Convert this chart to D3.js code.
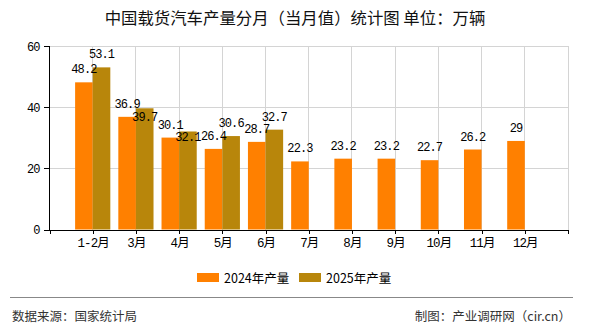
<!DOCTYPE html>
<html><head><meta charset="utf-8">
<script src="https://cdn.jsdelivr.net/npm/d3@7"></script>
<style>
html,body{margin:0;padding:0;background:#fff;}
svg{display:block;}
</style>
</head><body>
<svg id="c" width="590" height="330"></svg>
<script>
const categories = ["1-2月","3月","4月","5月","6月","7月","8月","9月","10月","11月","12月"];
const values2024 = [48.2, 36.9, 30.1, 26.4, 28.7, 22.3, 23.2, 23.2, 22.7, 26.2, 29];
const values2025 = [53.1, 39.7, 32.1, 30.6, 32.7];
const seriesNames = ["2024年产量", "2025年产量"];
const yTicks = [0, 20, 40, 60];
const titleText = "中国载货汽车产量分月（当月值）统计图 单位：万辆";
const sourceText = "数据来源：国家统计局";
const creditText = "制图：产业调研网（cir.cn）";

const colors = ["#FF8000", "#B8860B"];
const numFont = "'Liberation Mono','Noto Sans CJK SC',monospace";
const cjkFont = "'Noto Sans CJK SC','Noto Sans',sans-serif";

const svg = d3.select("#c");
const pLeft = 49.5, pRight = 568, pTop = 46.3, pBottom = 229.5;

const x = d3.scalePoint().domain(categories).range([pLeft, pRight]).padding(1);
const y = d3.scaleLinear().domain([0, 60]).range([pBottom, pTop]);
const bw = 17.6;
const inner = d3.scaleBand().domain(seriesNames).range([-bw, bw]);

// title
svg.append("text").attr("x", 295).attr("y", 24).attr("text-anchor", "middle")
  .attr("font-family", cjkFont).attr("font-size", 16.4).attr("fill", "#111")
  .text(titleText);

// grid
const g = svg.append("g");
g.selectAll("line.h").data(yTicks.filter(d => d > 0)).join("line")
  .attr("x1", pLeft).attr("x2", pRight).attr("y1", d => y(d)).attr("y2", d => y(d))
  .attr("stroke", "#d4d4d4").attr("stroke-width", 1).attr("shape-rendering", "crispEdges");
g.selectAll("line.v").data(categories.map(c => x(c)).concat([pRight])).join("line")
  .attr("x1", d => d).attr("x2", d => d).attr("y1", pTop).attr("y2", pBottom)
  .attr("stroke", "#d4d4d4").attr("stroke-width", 1).attr("shape-rendering", "crispEdges");

// bars
const series = [values2024, values2025];
series.forEach((vals, si) => {
  svg.append("g").selectAll("rect").data(vals).join("rect")
    .attr("x", (d, i) => x(categories[i]) + inner(seriesNames[si]))
    .attr("width", inner.bandwidth())
    .attr("y", d => y(d))
    .attr("height", d => y(0) - y(d))
    .attr("fill", colors[si]);
});

// axes
const xAxis = svg.append("g").attr("transform", `translate(0,${pBottom})`)
  .call(d3.axisBottom(x).tickSize(4).tickSizeOuter(4).tickPadding(5));
xAxis.selectAll("text").attr("font-family", numFont).attr("font-size", 12.5)
  .attr("letter-spacing", -0.9).attr("fill", "#000");
xAxis.selectAll("line,path").attr("stroke", "#000").attr("shape-rendering", "crispEdges");

const yAxis = svg.append("g").attr("transform", `translate(${pLeft},0)`)
  .call(d3.axisLeft(y).tickValues(yTicks).tickSize(6).tickSizeOuter(0).tickPadding(4));
yAxis.selectAll("text").attr("font-family", numFont).attr("font-size", 12)
  .attr("letter-spacing", -0.9).attr("fill", "#000");
yAxis.selectAll("line,path").attr("stroke", "#000").attr("shape-rendering", "crispEdges");
yAxis.select("path.domain").attr("d", `M0,${pTop}V${pBottom}`);

// data labels with simple overlap avoidance
const off = 9;
const labels = [];
values2024.forEach((v, i) => labels.push({v, cx: x(categories[i]) + inner(seriesNames[0]) + inner.bandwidth() / 2, by: y(v) - off}));
values2025.forEach((v, i) => {
  let by = y(v) - off;
  const other = y(values2024[i]) - off;
  if (Math.abs(by - other) < 11) by = other + 12.8;
  labels.push({v, cx: x(categories[i]) + inner(seriesNames[1]) + inner.bandwidth() / 2, by});
});
svg.append("g").selectAll("text").data(labels).join("text")
  .attr("x", d => d.cx).attr("y", d => d.by).attr("text-anchor", "middle")
  .attr("font-family", numFont).attr("font-size", 12).attr("letter-spacing", -0.9)
  .attr("fill", "#000").text(d => d.v);

// legend
const lg = svg.append("g");
const legX = [197, 299];
seriesNames.forEach((n, i) => {
  lg.append("rect").attr("x", legX[i]).attr("y", 273).attr("width", 22).attr("height", 9).attr("fill", colors[i]);
  lg.append("text").attr("x", legX[i] + 27).attr("y", 282.5).attr("font-family", cjkFont)
    .attr("font-size", 12.5).attr("fill", "#000").text(n);
});

// footer
svg.append("line").attr("x1", 10).attr("x2", 573).attr("y1", 297.5).attr("y2", 297.5)
  .attr("stroke", "#888").attr("stroke-width", 1.2);
svg.append("text").attr("x", 12).attr("y", 321).attr("font-family", cjkFont)
  .attr("font-size", 12.5).attr("fill", "#333").text(sourceText);
svg.append("text").attr("x", 571).attr("y", 321).attr("text-anchor", "end").attr("font-family", cjkFont)
  .attr("font-size", 12.5).attr("fill", "#333").text(creditText);
</script>
</body></html>
